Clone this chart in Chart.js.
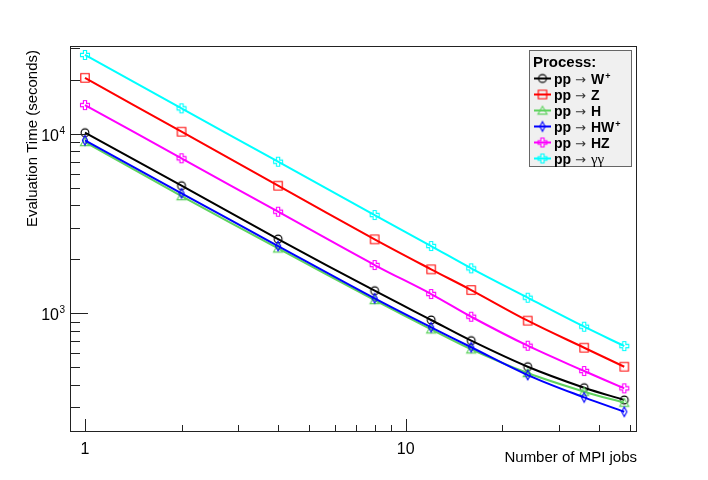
<!DOCTYPE html>
<html>
<head>
<meta charset="utf-8">
<script src="https://cdn.jsdelivr.net/npm/chart.js@4.4.1/dist/chart.umd.min.js"></script>
<style>
  html, body { margin: 0; padding: 0; background: #fff; }
  #timing { display: block; }
</style>
</head>
<body>
<canvas id="timing" width="708" height="480"></canvas>
<script>
// number of MPI jobs
var jobs = [1, 2, 4, 8, 12, 16, 24, 36, 48];

// evaluation time in seconds, one list per process
var timeW  = [10140, 5140, 2594, 1336, 918, 704, 504, 385, 329];
var timeZ  = [20500, 10270, 5140, 2583, 1758, 1348, 910, 643, 504];
var timeH  = [9000, 4500, 2300, 1186, 814, 630, 465, 366, 318];
var timeHW = [9200, 4660, 2371, 1212, 836, 647, 453, 340, 283];
var timeHZ = [14460, 7305, 3681, 1858, 1281, 957, 660, 477, 382];
var timeAA = [27500, 13870, 6993, 3528, 2371, 1781, 1222, 842, 657];

var procNames = ['W', 'Z', 'H', 'HW', 'HZ', 'γγ'];
var procSups  = ['+', '', '', '+', '', ''];

// axis ticks
var xTicks = [1, 2, 3, 4, 5, 6, 7, 8, 9, 10, 20, 30, 40, 50];
var xTickLabels = [1, 10];
var yTicks = [300, 400, 500, 600, 700, 800, 900, 1000, 2000, 3000, 4000, 5000,
              6000, 7000, 8000, 9000, 10000, 20000, 30000];
var yTickLabels = [1000, 10000];

var series = [timeW, timeZ, timeH, timeHW, timeHZ, timeAA];
var colors = ['#000000', '#ff0000', '#5fd35f', '#0000ff', '#ff00ff', '#00ffff'];
var markers = ['circle', 'square', 'triangle', 'diamond', 'cross', 'cross'];

var FONT = '"Liberation Sans", Arial, Helvetica, sans-serif';

// open ROOT-like markers drawn on small canvases
function makeMarker(kind, color) {
  var c = document.createElement('canvas');
  c.width = 14; c.height = 14;
  var g = c.getContext('2d');
  g.strokeStyle = color;
  g.lineWidth = 1.1;
  g.translate(7, 7);
  g.beginPath();
  if (kind === 'circle') {
    g.arc(0, 0, 3.9, 0, Math.PI * 2);
  } else if (kind === 'square') {
    g.rect(-4.2, -4.2, 8.4, 8.4);
  } else if (kind === 'triangle') {
    g.moveTo(0, -4.2); g.lineTo(4.6, 3.6); g.lineTo(-4.6, 3.6); g.closePath();
  } else if (kind === 'diamond') {
    g.moveTo(0, -4.8); g.lineTo(2.6, 0); g.lineTo(0, 4.8); g.lineTo(-2.6, 0); g.closePath();
  } else {
    var a = 4.5, b = 1.6;
    g.moveTo(-b, -a); g.lineTo(b, -a); g.lineTo(b, -b); g.lineTo(a, -b);
    g.lineTo(a, b); g.lineTo(b, b); g.lineTo(b, a); g.lineTo(-b, a);
    g.lineTo(-b, b); g.lineTo(-a, b); g.lineTo(-a, -b); g.lineTo(-b, -b);
    g.closePath();
  }
  g.stroke();
  return c;
}

var markerImgs = series.map(function (s, i) { return makeMarker(markers[i], colors[i]); });

var datasets = series.map(function (vals, i) {
  return {
    label: 'pp → ' + procNames[i] + procSups[i],
    data: jobs.map(function (x, k) { return { x: x, y: vals[k] }; }),
    borderColor: colors[i],
    borderWidth: 2,
    backgroundColor: 'rgba(0,0,0,0)',
    pointStyle: markerImgs[i],
    pointRadius: 5,
    pointHoverRadius: 5,
    tension: 0.35,
    fill: false,
    order: series.length - i
  };
});

function drawParts(ctx, x, y, parts) {
  parts.forEach(function (p) {
    ctx.font = p.font;
    ctx.fillStyle = p.color || '#000';
    ctx.fillText(p.t, x, y + (p.dy || 0));
    x += ctx.measureText(p.t).width + (p.gap || 0);
  });
  return x;
}

var rootFrame = {
  id: 'rootFrame',
  beforeDraw: function (chart) {
    var ctx = chart.ctx;
    ctx.save();
    ctx.fillStyle = '#fff';
    ctx.fillRect(0, 0, chart.width, chart.height);
    ctx.restore();
  },
  afterDatasetsDraw: function (chart) {
    var ctx = chart.ctx, a = chart.chartArea;
    var xs = chart.scales.x, ys = chart.scales.y;
    ctx.save();
    ctx.strokeStyle = '#222';
    ctx.lineWidth = 1;
    ctx.strokeRect(a.left + 0.5, a.top + 0.5, a.right - a.left - 1, a.bottom - a.top - 1);

    ctx.beginPath();
    xTicks.forEach(function (v) {
      var px = Math.round(xs.getPixelForValue(v)) + 0.5;
      var len = xTickLabels.indexOf(v) >= 0 ? 12 : 6;
      ctx.moveTo(px, a.bottom - 1); ctx.lineTo(px, a.bottom - 1 - len);
    });
    yTicks.forEach(function (v) {
      var py = Math.round(ys.getPixelForValue(v)) + 0.5;
      if (py < a.top + 1) return;
      var len = yTickLabels.indexOf(v) >= 0 ? 17 : 9;
      ctx.moveTo(a.left + 1, py); ctx.lineTo(a.left + 1 + len, py);
    });
    ctx.stroke();

    // tick labels
    ctx.fillStyle = '#000';
    ctx.textBaseline = 'alphabetic';
    ctx.font = '16px ' + FONT;
    ctx.textAlign = 'center';
    xTickLabels.forEach(function (v) {
      ctx.fillText(String(v), xs.getPixelForValue(v), a.bottom + 22);
    });
    yTickLabels.forEach(function (v) {
      var py = ys.getPixelForValue(v);
      var exp = String(Math.round(Math.log10(v)));
      ctx.textAlign = 'right';
      ctx.font = '16px ' + FONT;
      ctx.fillText('10', 59, py + 7);
      ctx.textAlign = 'left';
      ctx.font = '10px ' + FONT;
      ctx.fillText(exp, 59.5, py);
    });

    // axis titles
    ctx.font = '15px ' + FONT;
    ctx.textAlign = 'right';
    ctx.fillText('Number of MPI jobs', a.right, 462);
    ctx.save();
    ctx.translate(36.5, a.top + 4);
    ctx.rotate(-Math.PI / 2);
    ctx.fillText('Evaluation Time (seconds)', 0, 0);
    ctx.restore();
    ctx.restore();
  },
  afterDraw: function (chart) {
    var ctx = chart.ctx;
    var bx = 529.5, by = 50.5, bw = 102, bh = 116;
    ctx.save();
    ctx.fillStyle = '#f0f0f0';
    ctx.fillRect(bx, by, bw, bh);
    ctx.strokeStyle = '#666';
    ctx.lineWidth = 1;
    ctx.strokeRect(bx, by, bw, bh);

    ctx.fillStyle = '#000';
    ctx.textAlign = 'left';
    ctx.textBaseline = 'alphabetic';
    ctx.font = 'bold 15px ' + FONT;
    ctx.fillText('Process:', 533, 67);

    var bold = 'bold 14px ' + FONT;
    var arrow = '13px "DejaVu Sans", sans-serif';
    var greek = '15px "Liberation Serif", "DejaVu Serif", serif';
    series.forEach(function (s, i) {
      var cy = 78.5 + i * 16;
      ctx.strokeStyle = colors[i];
      ctx.lineWidth = 2;
      ctx.beginPath();
      ctx.moveTo(534, cy); ctx.lineTo(551, cy);
      ctx.stroke();
      ctx.drawImage(markerImgs[i], 542.5 - 7, cy - 7);
      var parts = [
        { t: 'pp', font: bold, gap: 4 },
        { t: '→', font: arrow, gap: 5, color: '#333' },
        { t: procNames[i], font: procNames[i] === 'γγ' ? greek : bold, gap: 1 }
      ];
      if (procSups[i]) parts.push({ t: procSups[i], font: 'bold 9px ' + FONT, dy: -5 });
      drawParts(ctx, 554, cy + 5, parts);
    });
    ctx.restore();
  }
};

new Chart(document.getElementById('timing').getContext('2d'), {
  type: 'line',
  data: { datasets: datasets },
  options: {
    responsive: false,
    animation: false,
    layout: { padding: { left: 70, right: 71, top: 46, bottom: 48 } },
    plugins: { legend: { display: false }, tooltip: { enabled: false } },
    scales: {
      x: { type: 'logarithmic', min: 0.898, max: 52.6, display: false, bounds: 'data' },
      y: { type: 'logarithmic', min: 218.2, max: 30850, display: false, bounds: 'data' }
    }
  },
  plugins: [rootFrame]
});
</script>
</body>
</html>
